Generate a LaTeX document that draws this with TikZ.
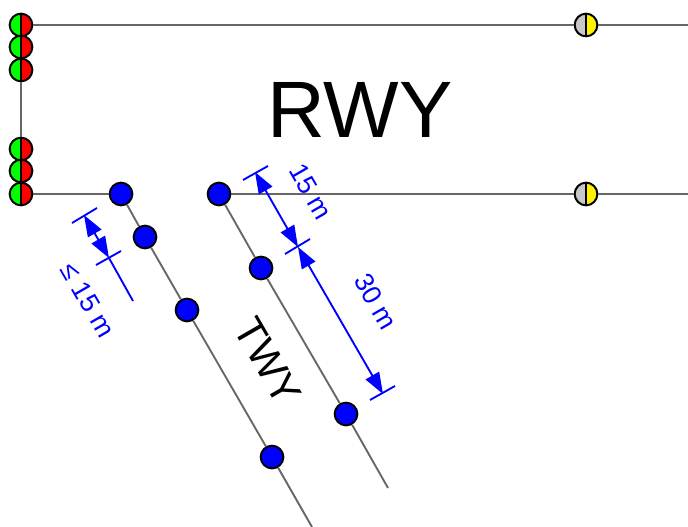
\documentclass[tikz,border=0pt]{standalone}
\usepackage{fontspec}
\setmainfont{Liberation Sans}
\usetikzlibrary{arrows.meta}
\definecolor{wire}{HTML}{666666}
\definecolor{lampgrey}{HTML}{C8C8C8}
\tikzset{
lamp/.style 2 args={circle, draw=black, line width=1.5pt, minimum size=17pt, inner sep=0pt,
  path picture={
    \fill[#1] (path picture bounding box.south west) rectangle (path picture bounding box.north);
    \fill[#2] (path picture bounding box.south) rectangle (path picture bounding box.north east);
    \draw[black, line width=1.5pt] (path picture bounding box.south) -- (path picture bounding box.north);
  }},
stopbar/.style={lamp={green}{red}},
guard/.style={lamp={lampgrey}{yellow}},
twylight/.style={circle, draw=black, fill=blue, line width=1.5pt, minimum size=17pt, inner sep=0pt},
wireline/.style={draw=wire, line width=1.4pt},
dimline/.style={draw=blue, line width=1.4pt},
dimarrow/.style={dimline, {Triangle[length=16pt, width=11.5pt]}-{Triangle[length=16pt, width=11.5pt]}},
dimtext/.style={text=blue, font=\fontsize{20}{22}\selectfont, rotate=-60, inner sep=0pt}
}
\begin{document}
\begin{tikzpicture}[x=0.75pt, y=-0.75pt]
\useasboundingbox (0, 0) rectangle (688, 527);

\node[stopbar] (s1) at (21, 25){};
\node[stopbar] (s2) at (21, 47){};
\node[stopbar] (s3) at (21, 70){};
\node[stopbar] (s4) at (21, 149){};
\node[stopbar] (s5) at (21, 171){};
\node[stopbar] (s6) at (21, 194){};

\node[guard] (g1) at (586, 25){};
\node[guard] (g2) at (586, 194){};

\node[twylight] (a1) at (121, 194){};
\node[twylight] (a2) at (145, 237){};
\node[twylight] (a3) at (187, 310){};
\node[twylight] (a4) at (272, 457){};

\node[twylight] (b1) at (219, 194){};
\node[twylight] (b2) at (261, 268){};
\node[twylight] (b3) at (346, 414){};

\coordinate (topend) at (688, 25);
\coordinate (botend) at (688, 194);
\coordinate (aend) at (312, 527);
\coordinate (bend) at (388, 488);

\draw[wireline] (s1) -- (g1);
\draw[wireline] (g1) -- (topend);
\draw[wireline] (s3) -- (s4);
\draw[wireline] (s6) -- (a1);
\draw[wireline] (b1) -- (g2);
\draw[wireline] (g2) -- (botend);
\draw[wireline] (a1) -- (a2);
\draw[wireline] (a2) -- (a3);
\draw[wireline] (a3) -- (a4);
\draw[wireline] (a4) -- (aend);
\draw[wireline] (b1) -- (b2);
\draw[wireline] (b2) -- (b3);
\draw[wireline] (b3) -- (bend);

\coordinate (p1) at (84, 215);
\coordinate (p1l) at (72, 223);
\coordinate (p1r) at (97, 208);
\coordinate (p2) at (109, 258);
\coordinate (p2l) at (96, 265);
\coordinate (p2r) at (121, 251);
\coordinate (p3) at (133, 301);
\draw[dimline] (p1l) -- (p1r);
\draw[dimline] (p2l) -- (p2r);
\draw[dimarrow] (p1) -- (p2);
\draw[dimline] (p2) -- (p3);

\coordinate (q1) at (255, 172);
\coordinate (q1l) at (243, 180);
\coordinate (q1r) at (268, 166);
\coordinate (q2) at (298, 247);
\coordinate (q2l) at (285, 254);
\coordinate (q2r) at (310, 239);
\coordinate (q3) at (383, 394);
\coordinate (q3l) at (370, 400);
\coordinate (q3r) at (395, 386);
\draw[dimline] (q1l) -- (q1r);
\draw[dimline] (q2l) -- (q2r);
\draw[dimline] (q3l) -- (q3r);
\draw[dimarrow] (q1) -- (q2);
\draw[dimarrow] (q2) -- (q3);

\node[font=\fontsize{60}{62}\selectfont] (rwy) at (360, 110){RWY};
\node[font=\fontsize{31}{33}\selectfont, rotate=-60] (twy) at (268, 361){TWY};
\node[dimtext] (d15) at (311, 192){15 m};
\node[dimtext] (d30) at (376, 302){30 m};
\node[dimtext] (dle) at (88, 300){≤ 15 m};
\end{tikzpicture}
\end{document}
